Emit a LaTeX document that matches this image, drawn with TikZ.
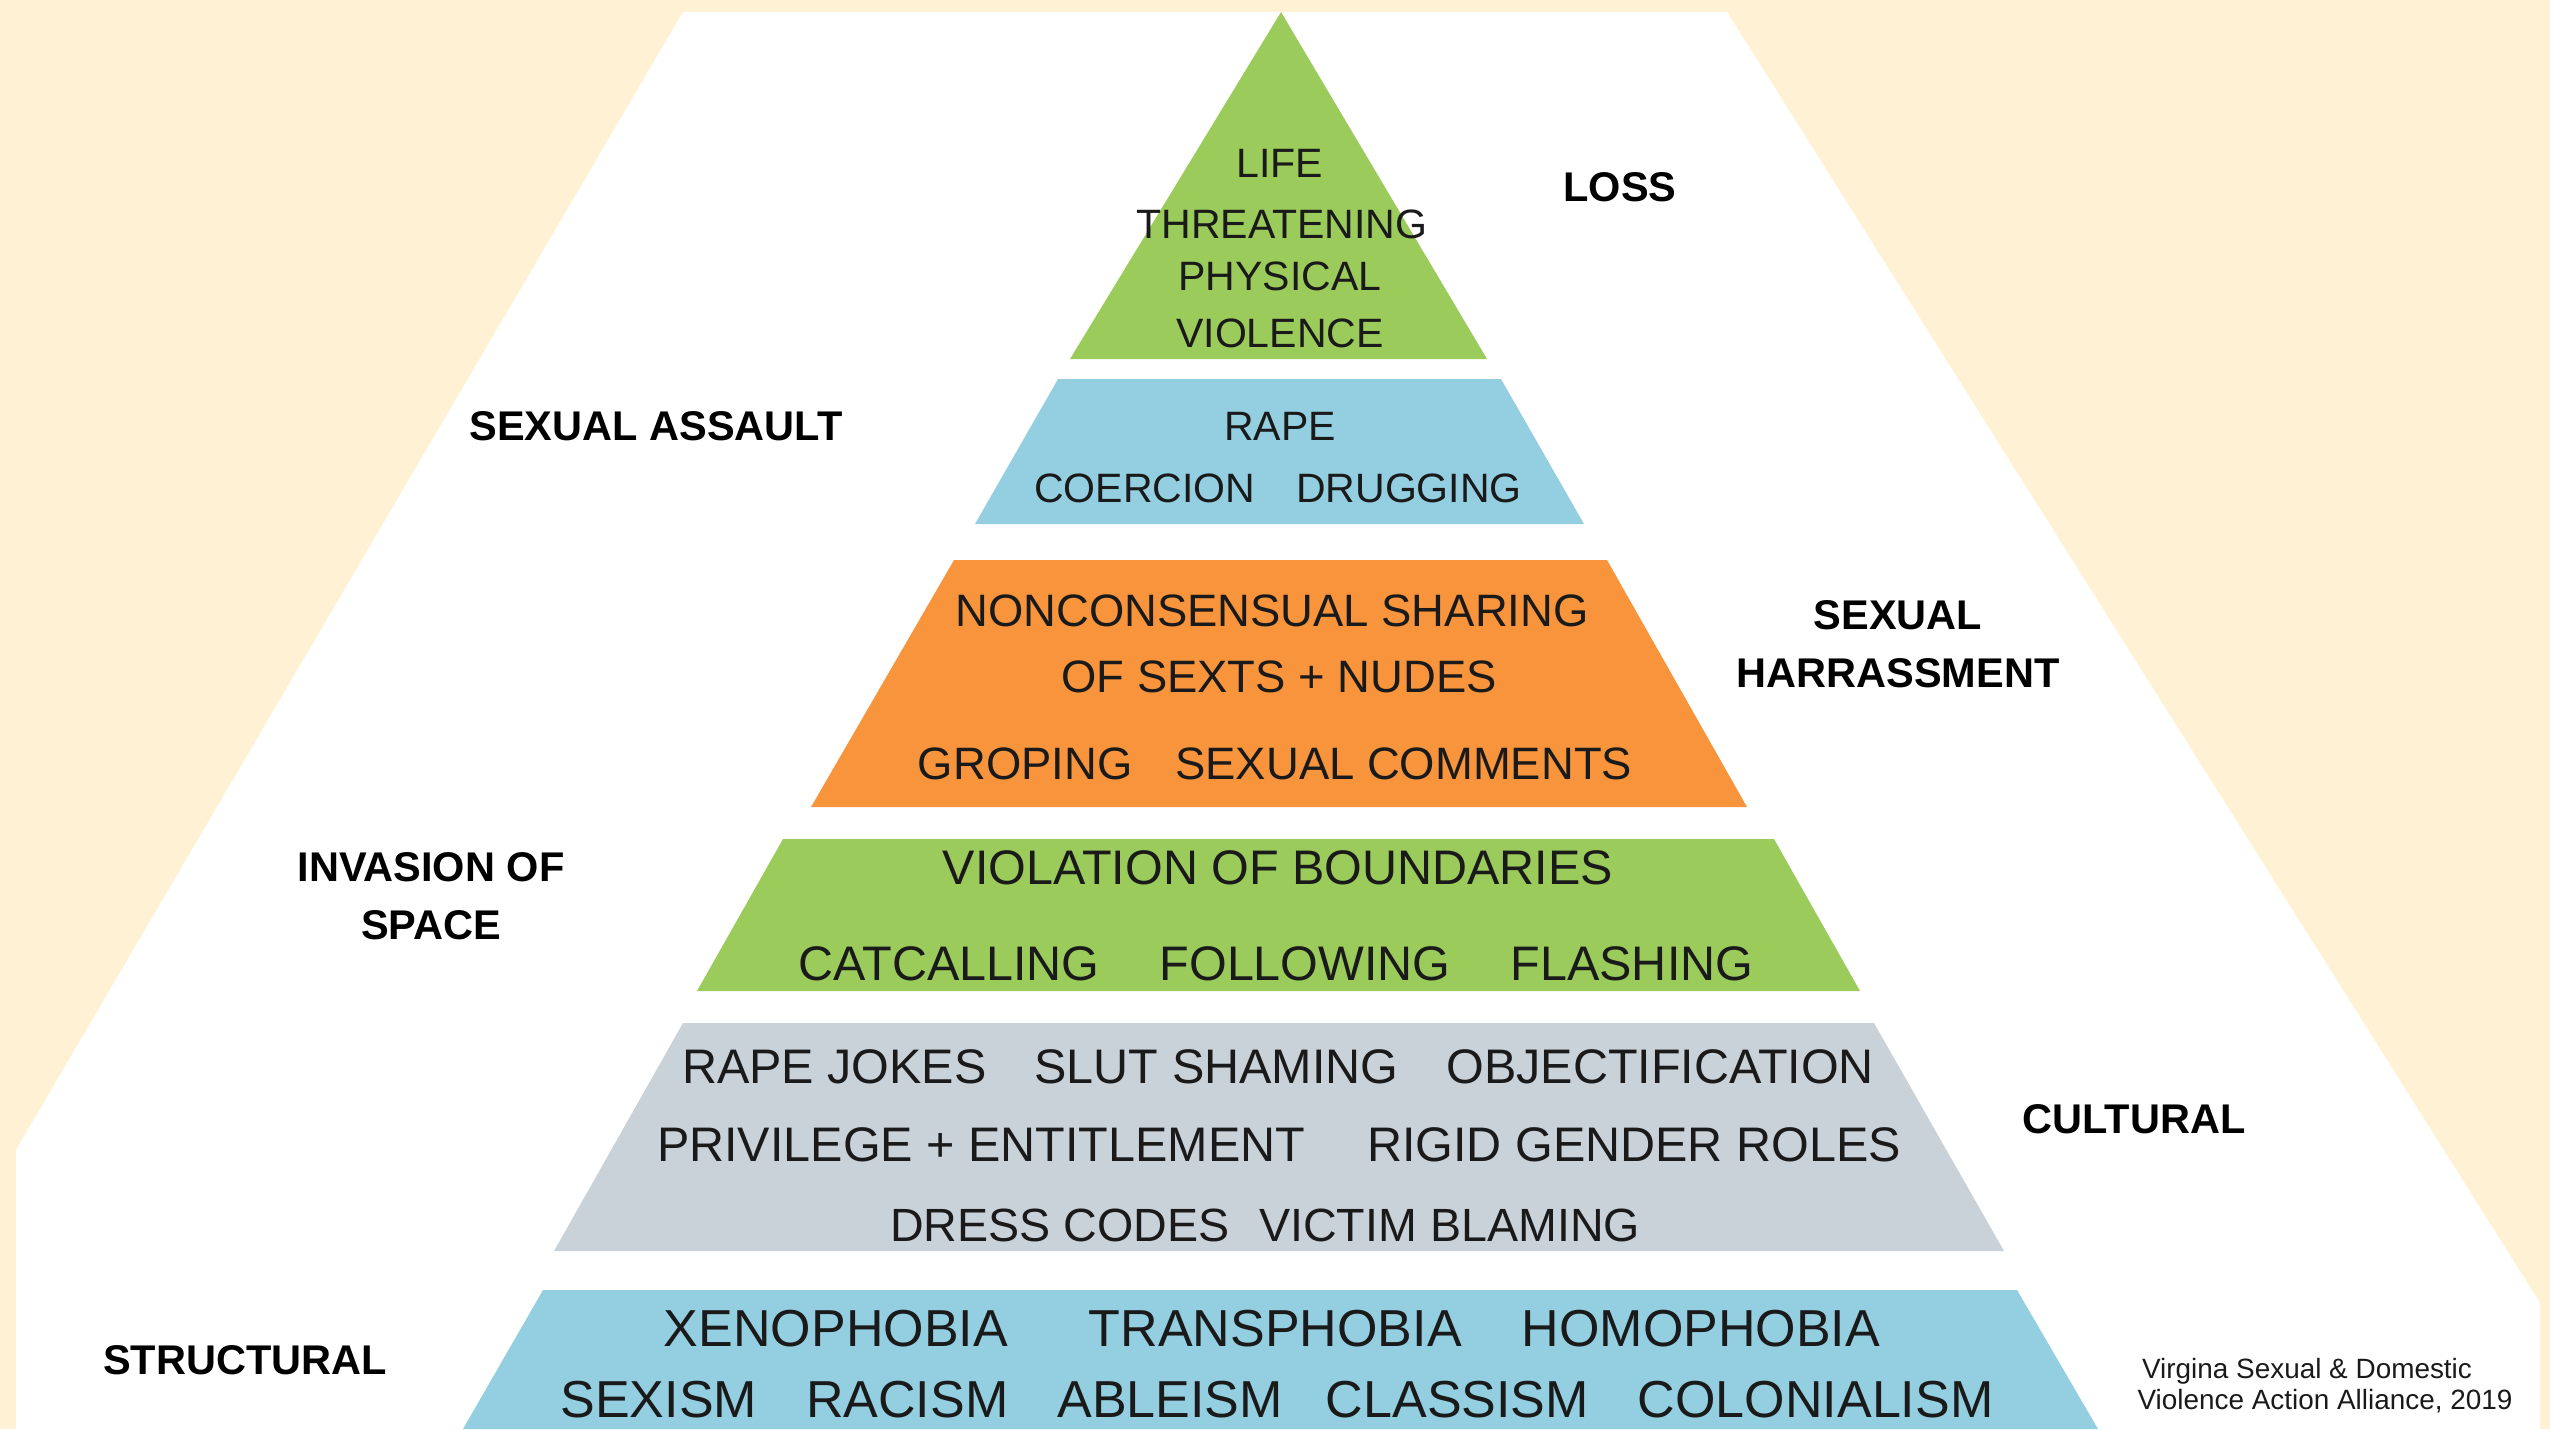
\documentclass[tikz,border=0pt]{standalone}
\usepackage{fontspec}
\setmainfont{Liberation Sans}
\definecolor{cream}{HTML}{FFF2D4}
\definecolor{lgreen}{HTML}{9BCB5B}
\definecolor{lblue}{HTML}{93CFE0}
\definecolor{lorange}{HTML}{F7943C}
\definecolor{lgray}{HTML}{C9D1D9}
\definecolor{txt}{HTML}{1A1A1A}
\begin{document}
\begin{tikzpicture}[x=0.1mm,y=-0.1mm,
  ta/.style={inner sep=0pt,text=txt,font=\fontsize{11.67pt}{14pt}\selectfont},
  tb/.style={inner sep=0pt,text=txt,font=\fontsize{12.92pt}{15pt}\selectfont},
  tc/.style={inner sep=0pt,text=txt,font=\fontsize{13.8pt}{16pt}\selectfont},
  tcs/.style={inner sep=0pt,text=txt,font=\fontsize{13.26pt}{16pt}\selectfont},
  td/.style={inner sep=0pt,text=txt,font=\fontsize{14.8pt}{17pt}\selectfont},
  lbl/.style={inner sep=0pt,text=black,align=center,font=\bfseries\fontsize{11.81pt}{16.4pt}\selectfont},
  cite/.style={inner sep=0pt,text=txt,font=\fontsize{7.94pt}{9pt}\selectfont}]
\fill[cream] (0,0) rectangle (2550,1429);
\useasboundingbox (0,0) rectangle (2550,1429);
\fill[white] (683,12) -- (1727,12) -- (2540,1303) -- (2540,1429) -- (16,1429) -- (16,1150) -- cycle;
% pyramid layers
\fill[lgreen] (1281,12) -- (1487,359) -- (1070,359) -- cycle;
\fill[lblue] (1058,379) -- (1501,379) -- (1584,524) -- (975,524) -- cycle;
\fill[lorange] (954,560) -- (1607,560) -- (1747,807) -- (811,807) -- cycle;
\fill[lgreen] (783,839) -- (1774,839) -- (1860,991) -- (697,991) -- cycle;
\fill[lgray] (683,1023) -- (1874,1023) -- (2004,1251) -- (554,1251) -- cycle;
\fill[lblue] (543,1290) -- (2017,1290) -- (2098,1429) -- (463,1429) -- cycle;
% layer 1
\node[ta] (l1a) at (1280,163) {LIFE};
\node[ta] (l1b) at (1282,224) {THREATENING};
\node[ta] (l1c) at (1280,276) {PHYSICAL};
\node[ta] (l1d) at (1280,333) {VIOLENCE};
% layer 2
\node[ta] (l2a) at (1280,426) {RAPE};
\node[ta] (l2b) at (1278,488) {COERCION\hspace{4.1mm}DRUGGING};
% layer 3
\node[tb] (l3a) at (1272,611) {NONCONSENSUAL SHARING};
\node[tb] (l3b) at (1279,677) {OF SEXTS + NUDES};
\node[tb] (l3c) at (1275,764) {GROPING\hspace{4.3mm}SEXUAL COMMENTS};
% layer 4
\node[tc] (l4a) at (1278,868) {VIOLATION OF BOUNDARIES};
\node[tc] (l4b) at (1276,964) {CATCALLING\hspace{6mm}FOLLOWING\hspace{6mm}FLASHING};
% layer 5
\node[tc] (l5a) at (1278,1067) {RAPE JOKES\hspace{4.8mm}SLUT SHAMING\hspace{4.8mm}OBJECTIFICATION};
\node[tc] (l5b) at (1279,1145) {PRIVILEGE + ENTITLEMENT\hspace{6.2mm}RIGID GENDER ROLES};
\node[tcs] (l5c) at (1265,1225) {DRESS CODES\hspace{3mm}VICTIM BLAMING};
% layer 6
\node[td] (l6a) at (1272,1329) {XENOPHOBIA\hspace{8.1mm}TRANSPHOBIA\hspace{6mm}HOMOPHOBIA};
\node[td] (l6b) at (1277,1400) {SEXISM\hspace{4.9mm}RACISM\hspace{4.9mm}ABLEISM\hspace{4.3mm}CLASSISM\hspace{4.9mm}COLONIALISM};
% side labels
\node[lbl] (loss) at (1620,187) {LOSS};
\node[lbl] (sa) at (656,426) {SEXUAL ASSAULT};
\node[lbl] (sh) at (1898,644) {SEXUAL\\HARRASSMENT};
\node[lbl] (inv) at (431,896) {INVASION OF\\SPACE};
\node[lbl] (cul) at (2134,1119) {CULTURAL};
\node[lbl] (str) at (245,1360) {STRUCTURAL};
% citation
\node[cite,anchor=base] (cit1) at (2307,1378) {Virgina Sexual \& Domestic};
\node[cite,anchor=base] (cit2) at (2325,1409) {Violence Action Alliance, 2019};
\end{tikzpicture}
\end{document}
